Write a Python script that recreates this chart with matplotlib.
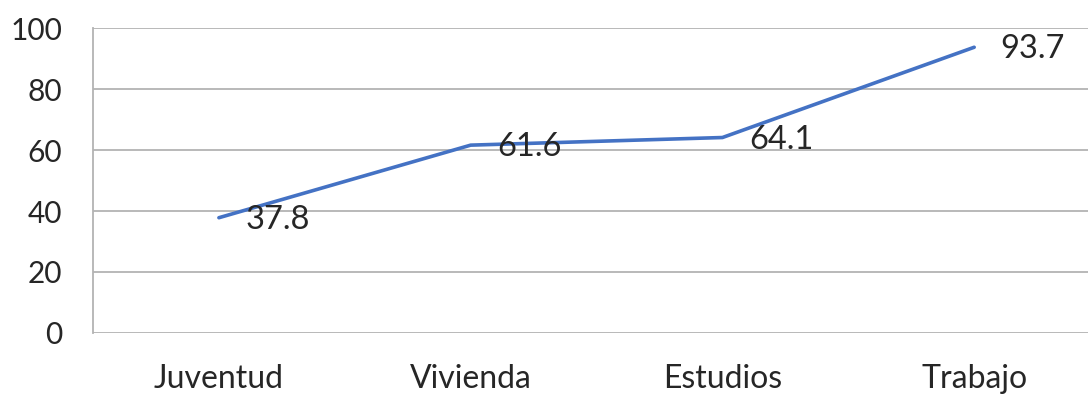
import matplotlib.pyplot as plt

categorias = ['Juventud', 'Vivienda', 'Estudios', 'Trabajo']
valores = [37.8, 61.6, 64.1, 93.7]
yticks = [0, 20, 40, 60, 80, 100]

plt.rcParams['font.family'] = ['Lato', 'DejaVu Sans']

fig = plt.figure(figsize=(10.88, 3.95), dpi=100, facecolor='white')
ax = fig.add_axes([0.0855, 0.157, 0.9256, 0.772])

x = list(range(len(categorias)))
ax.plot(x, valores, color='#4472C4', linewidth=2.6, solid_capstyle='round', zorder=3)

# etiquetas de datos a la derecha de cada punto
for xi, v in zip(x, valores):
    ax.annotate(f'{v:.1f}', xy=(xi, v), xytext=(19, -1.5), textcoords='offset points',
                ha='left', va='center', fontsize=23.5, color='#262626', zorder=4)

ax.set_xlim(-0.5, len(categorias) - 0.5)
ax.set_ylim(0, 100)
ax.set_yticks(yticks)
ax.set_xticks(x)
ax.set_xticklabels(categorias)
ax.yaxis.grid(True, color='#b3b3b3', linewidth=1.3)
ax.set_axisbelow(True)

for s in ['top', 'right', 'bottom']:
    ax.spines[s].set_visible(False)
ax.spines['left'].set_color('#b3b3b3')
ax.spines['left'].set_linewidth(1.3)

ax.tick_params(axis='y', length=0, pad=22, labelsize=21.5, labelcolor='#262626')
ax.tick_params(axis='x', length=0, pad=22, labelsize=23, labelcolor='#262626')

fig.savefig('out.png', dpi=100)
